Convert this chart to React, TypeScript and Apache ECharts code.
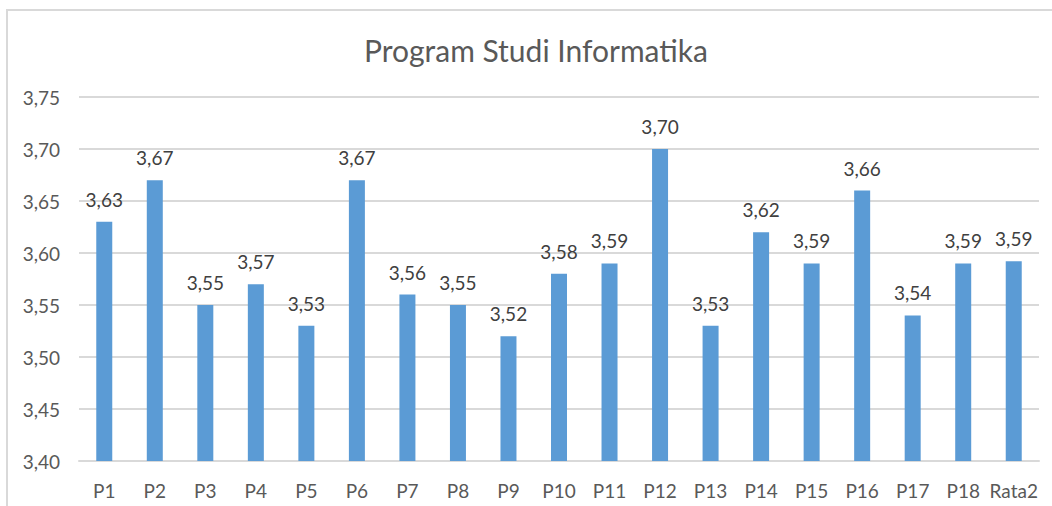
import React, { useEffect, useRef } from "react";
import * as echarts from "echarts";

const categories = ["P1","P2","P3","P4","P5","P6","P7","P8","P9","P10","P11","P12","P13","P14","P15","P16","P17","P18","Rata2"];
const values = [3.63,3.67,3.55,3.57,3.53,3.67,3.56,3.55,3.52,3.58,3.59,3.70,3.53,3.62,3.59,3.66,3.54,3.59,3.592];
const titleText = "Program Studi Informatika";

const fmt = (v: number) => v.toFixed(2).replace(".", ",");

export default function App() {
  const ref = useRef<HTMLDivElement>(null);
  useEffect(() => {
    if (!ref.current) return;
    const chart = echarts.init(ref.current, undefined, { renderer: "svg" });
    const font = "Lato, 'Open Sans', sans-serif";
    chart.setOption({
      animation: false,
      backgroundColor: "#ffffff",
      textStyle: { fontFamily: font },
      title: {
        text: titleText,
        left: 359,
        top: 30,
        textStyle: { fontFamily: font, fontSize: 30, fontWeight: "normal", color: "#595959" },
      },
      graphic: [
        {
          type: "rect",
          shape: { x: 7, y: 10, width: 1100, height: 600 },
          style: { fill: "none", stroke: "#d9d9d9", lineWidth: 2 },
          silent: true,
        },
      ],
      grid: { left: 79, right: 13, top: 97, bottom: 45 },
      xAxis: {
        type: "category",
        data: categories,
        axisLine: { show: true, lineStyle: { color: "#d9d9d9", width: 2 } },
        axisTick: { show: false },
        axisLabel: { color: "#595959", fontSize: 19, fontFamily: font, margin: 20, interval: 0 },
      },
      yAxis: {
        type: "value",
        min: 3.4,
        max: 3.75,
        interval: 0.05,
        axisLine: { show: false },
        axisTick: { show: false },
        splitLine: { lineStyle: { color: "#d9d9d9", width: 2 } },
        axisLabel: { color: "#595959", fontSize: 19, fontFamily: font, margin: 19, formatter: (v: number) => fmt(v) },
      },
      series: [
        {
          type: "bar",
          data: values,
          barWidth: 16,
          itemStyle: { color: "#5b9bd5" },
          label: {
            show: true,
            position: "top",
            distance: 13,
            color: "#404040",
            fontSize: 19,
            fontFamily: font,
            formatter: (p: any) => fmt(p.value),
          },
        },
      ],
    });
    return () => chart.dispose();
  }, []);
  return <div ref={ref} style={{ position: "fixed", left: 0, top: 0, width: 1052, height: 506 }} />;
}
